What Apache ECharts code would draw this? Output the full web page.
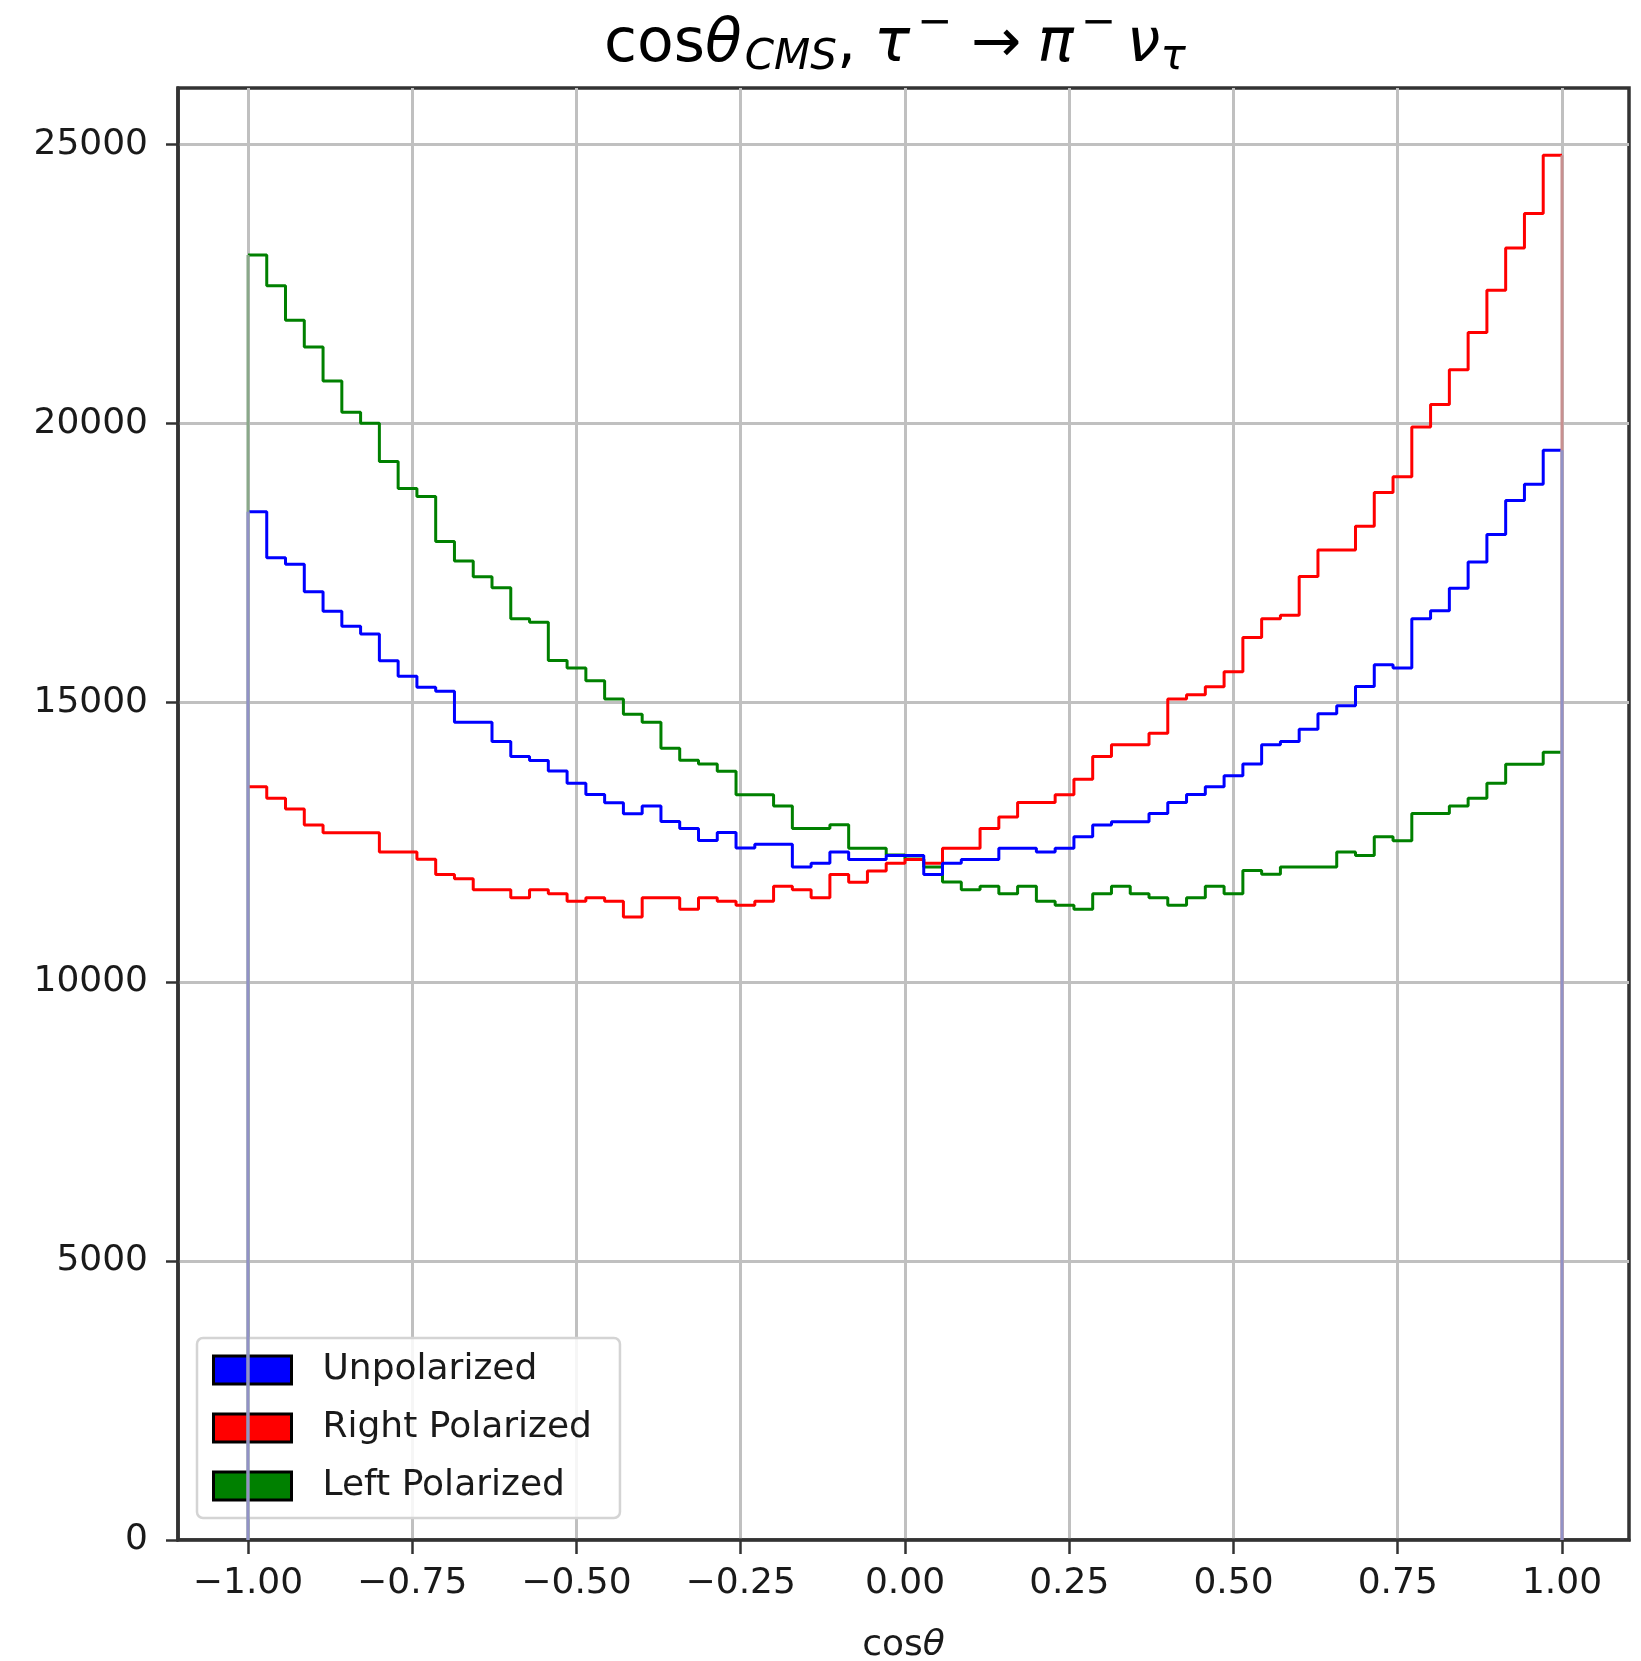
<!DOCTYPE html>
<html>
<head>
<meta charset="utf-8">
<script src="https://cdn.jsdelivr.net/npm/echarts@6/dist/echarts.min.js"></script>
<style>
  html, body { margin: 0; padding: 0; background: #fff; }
  #chart { width: 1641px; height: 1661px; }
</style>
</head>
<body>
<div id="chart"></div>
<script>
// ---- data (counts per bin, 70 bins from -1 to 1) ----
const nBins = 70;
const xRange = [-1, 1];
const unpolarized = [
  18419, 17598, 17479, 16987, 16640, 16371, 16232, 15750, 15472, 15275,
  15203, 14651, 14651, 14304, 14035, 13963, 13777, 13555, 13357, 13208,
  13010, 13149, 12870, 12747, 12531, 12675, 12399, 12466, 12466, 12058,
  12124, 12327, 12189, 12189, 12261, 12261, 11920, 12124, 12189, 12189,
  12394, 12394, 12327, 12394, 12600, 12807, 12867, 12867, 13016, 13213,
  13357, 13495, 13693, 13903, 14245, 14304, 14525, 14802, 14946, 15292,
  15680, 15620, 16505, 16647, 17052, 17521, 18013, 18624, 18912, 19522
];
const rightPolarized = [
  13495, 13286, 13094, 12807, 12669, 12669, 12669, 12327, 12327, 12196,
  11920, 11848, 11650, 11650, 11506, 11650, 11578, 11441, 11506, 11441,
  11159, 11506, 11506, 11298, 11506, 11441, 11370, 11441, 11711, 11650,
  11506, 11920, 11783, 11986, 12124, 12189, 12124, 12394, 12394, 12747,
  12951, 13213, 13213, 13352, 13630, 14035, 14245, 14245, 14453, 15064,
  15143, 15287, 15555, 16166, 16505, 16568, 17262, 17736, 17736, 18161,
  18764, 19048, 19939, 20342, 20966, 21634, 22391, 23147, 23763, 24809
];
const leftPolarized = [
  23020, 22468, 21852, 21372, 20761, 20204, 20006, 19323, 18838, 18694,
  17886, 17539, 17257, 17059, 16502, 16443, 15754, 15622, 15395, 15064,
  14795, 14651, 14184, 13968, 13903, 13771, 13352, 13352, 13149, 12747,
  12747, 12813, 12394, 12394, 12270, 12200, 12058, 11788, 11650, 11711,
  11578, 11711, 11441, 11370, 11300, 11578, 11711, 11578, 11506, 11370,
  11506, 11711, 11578, 11992, 11926, 12058, 12058, 12058, 12327, 12261,
  12597, 12525, 13016, 13016, 13149, 13286, 13555, 13896, 13896, 14112
];
const seriesNames = ['Unpolarized', 'Right Polarized', 'Left Polarized'];
const xTicks = [-1.0, -0.75, -0.5, -0.25, 0.0, 0.25, 0.5, 0.75, 1.0];
const yTicks = [0, 5000, 10000, 15000, 20000, 25000];

// ---- build step outlines from the bins ----
const edges = [];
for (let i = 0; i <= nBins; i++) edges.push(xRange[0] + (xRange[1] - xRange[0]) * i / nBins);
function stepData(vals) {
  const pts = [];
  for (let i = 0; i < vals.length; i++) {
    pts.push([edges[i], vals[i]]);
    pts.push([edges[i + 1], vals[i]]);
  }
  return pts;
}
function edgeLine(x, v) { return [[x, 0], [x, v]]; }

const FONT = 'DejaVu Sans';
const lw = 3;
const chart = echarts.init(document.getElementById('chart'), null, { renderer: 'canvas' });

function tickFmt(v) {
  return (v < 0 ? '\u2212' : '') + Math.abs(v).toFixed(2);
}

function tok(size, italic, padTop, padLeft) {
  return { fontFamily: FONT, fontSize: size, fontStyle: italic ? 'italic' : 'normal', fontWeight: 'normal',
           color: '#000', lineHeight: size, padding: [padTop, 0, 0, padLeft], verticalAlign: 'top' };
}

const option = {
  animation: false,
  backgroundColor: '#fff',
  textStyle: { fontFamily: FONT },
  title: {
    left: 604, top: 0, padding: 0,
    text: '{m|cos}{th|θ}{sub1|CMS}{m|,}{tau|τ}{sup1|−}{arr|→}{pi|π}{sup2|−}{nu|ν}{sub2|τ}',
    textStyle: {
      fontWeight: 'normal',
      rich: {
        m:    tok(60, false, 15, 0),
        th:   tok(60, true, 15, 0),
        sub1: tok(42, true, 37, 3),
        tau:  tok(60, true, 15, 18),
        sup1: tok(42, false, 3, 7),
        arr:  tok(60, false, 15, 19),
        pi:   tok(60, true, 15, 16),
        sup2: tok(42, false, 3, 7),
        nu:   tok(60, true, 15, 11),
        sub2: tok(42, true, 37, 0)
      }
    }
  },
  legend: {
    orient: 'vertical',
    left: 197, top: 1338,
    padding: [14, 28, 14, 15],
    itemWidth: 78, itemHeight: 28, itemGap: 22,
    backgroundColor: 'rgba(255,255,255,0.85)',
    borderColor: '#d4d4d4', borderWidth: 2.5, borderRadius: 6,
    textStyle: { fontFamily: FONT, fontSize: 36, color: '#1a1a1a', lineHeight: 36, padding: [0, 0, 0, 26] },
    data: [
      { name: seriesNames[0], icon: 'rect', itemStyle: { color: '#0000ff', borderColor: '#000', borderWidth: 3 } },
      { name: seriesNames[1], icon: 'rect', itemStyle: { color: '#ff0000', borderColor: '#000', borderWidth: 3 } },
      { name: seriesNames[2], icon: 'rect', itemStyle: { color: '#008000', borderColor: '#000', borderWidth: 3 } }
    ]
  },
  grid: {
    left: 178, right: 12, top: 88, bottom: 121,
    outerBoundsMode: 'none', containLabel: false,
    show: true, borderColor: '#333', borderWidth: 3.5, backgroundColor: 'transparent'
  },
  xAxis: {
    type: 'value', min: -1.1065, max: 1.102,
    name: '{a|cos}{b|θ}', nameLocation: 'middle', nameGap: 88,
    nameTextStyle: { rich: {
      a: { fontFamily: FONT, fontSize: 36, color: '#1a1a1a' },
      b: { fontFamily: FONT, fontSize: 36, color: '#1a1a1a', fontStyle: 'italic' }
    } },
    axisLine: { show: true, onZero: false, lineStyle: { color: '#333', width: 3.5 } },
    axisTick: { show: true, customValues: xTicks, length: 14, lineStyle: { color: '#333', width: 2.5 } },
    axisLabel: { customValues: xTicks, formatter: tickFmt, fontFamily: FONT, fontSize: 36, color: '#1a1a1a', margin: 26 },
    splitLine: { show: true, lineStyle: { color: '#c0c0c0', width: 3 } }
  },
  yAxis: {
    type: 'value', min: 0, max: 26012,
    axisLine: { show: true, onZero: false, lineStyle: { color: '#333', width: 3.5 } },
    axisTick: { show: true, customValues: yTicks, length: 12, lineStyle: { color: '#333', width: 2.5 } },
    axisLabel: { customValues: yTicks, formatter: v => String(v), fontFamily: FONT, fontSize: 36, color: '#1a1a1a', margin: 30 },
    splitLine: { show: true, lineStyle: { color: '#c0c0c0', width: 3 } }
  },
  series: [
    { name: seriesNames[2], type: 'line', data: stepData(leftPolarized), showSymbol: false, symbol: 'none',
      lineStyle: { color: '#008000', width: lw }, itemStyle: { color: '#008000' }, z: 3 },
    { name: seriesNames[1], type: 'line', data: stepData(rightPolarized), showSymbol: false, symbol: 'none',
      lineStyle: { color: '#ff0000', width: lw }, itemStyle: { color: '#ff0000' }, z: 4 },
    { name: seriesNames[0], type: 'line', data: stepData(unpolarized), showSymbol: false, symbol: 'none',
      lineStyle: { color: '#0000ff', width: lw }, itemStyle: { color: '#0000ff' }, z: 5 },
    { name: 'edgeL1', type: 'line', data: edgeLine(xRange[0], leftPolarized[0]), symbol: 'none',
      lineStyle: { color: '#8aa88a', width: lw }, z: 6, silent: true },
    { name: 'edgeR1', type: 'line', data: edgeLine(xRange[1], rightPolarized[nBins - 1]), symbol: 'none',
      lineStyle: { color: '#c89090', width: lw }, z: 6, silent: true },
    { name: 'edgeL2', type: 'line', data: edgeLine(xRange[0], unpolarized[0]), symbol: 'none',
      lineStyle: { color: '#9292c6', width: lw }, z: 7, silent: true },
    { name: 'edgeR2', type: 'line', data: edgeLine(xRange[1], unpolarized[nBins - 1]), symbol: 'none',
      lineStyle: { color: '#9292c6', width: lw }, z: 7, silent: true }
  ]
};
chart.setOption(option);
</script>
</body>
</html>
